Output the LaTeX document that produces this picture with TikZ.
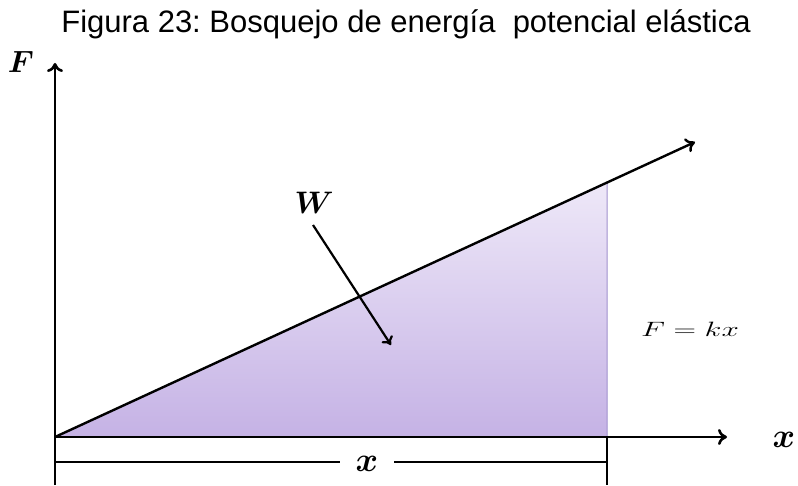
\documentclass[tikz,border=0pt]{standalone}
\usepackage{fontspec}
\setmainfont{Liberation Sans}
\frenchspacing
\usetikzlibrary{arrows.meta,calc}
\definecolor{shadetop}{RGB}{238,232,248}
\definecolor{shadebot}{RGB}{197,178,229}
\definecolor{edgepurple}{RGB}{160,144,205}
\newcommand{\bm}[2]{\scalebox{#1}{\fontsize{20.74}{24}\selectfont\boldmath$#2$}}
\tikzset{
  axis/.style={line width=2.6pt,-{To[length=9pt,width=16pt]}},
  plain/.style={line width=2.2pt},
  graphline/.style={line width=2.4pt,-{To[length=9pt,width=15pt]}},
  mathlab/.style={inner sep=0pt},
}
\begin{document}
\begin{tikzpicture}[x=1pt,y=1pt]
\useasboundingbox (0,0) rectangle (798,485);
% key points
\coordinate (O) at (55,48);
\coordinate (Ytip) at (55,422);
\coordinate (Ybot) at (55,0);
\coordinate (Xtip) at (727,48);
\coordinate (Dtip) at (695,343);
\coordinate (R) at (607,48);
\coordinate (Rtop) at ($(O)!0.8625!(Dtip)$);
\coordinate (Rbot) at (607,0);
\coordinate (DimL) at (55,23);
\coordinate (DimR) at (607,23);
\coordinate (Wstart) at (313,260);
\coordinate (Wend) at (391,140);
% title
\node[anchor=base,inner sep=0pt,font=\fontsize{31}{31}\selectfont] (title) at (406,452)
  {Figura 23: Bosquejo de energía\ \ potencial elástica};
% shaded area
\shade[top color=shadetop,bottom color=shadebot] (O) -- (R) -- (Rtop) -- cycle;
\draw[edgepurple,line width=1pt] (R) -- (Rtop);
% axes
\draw[axis] (Ybot) -- (Ytip);
\draw[axis] (O) -- (Xtip);
\draw[graphline] (O) -- (Dtip);
% labels
\node[mathlab] (Flab) at (21,423) {\bm{1.48}{F}};
\node[mathlab] (xlab) at (784,45) {\bm{1.65}{x}};
\node[mathlab] (Wlab) at (314,282) {\bm{1.5}{W}};
\node[inner sep=0pt,font=\fontsize{20}{20}\selectfont] (law) at (690,156)
  {\scalebox{1.5}[1]{$F = kx$}};
% W arrow
\draw[line width=2.2pt,-{To[length=8pt,width=13pt]}] (Wstart) -- (Wend);
% dimension
\draw[plain] (R) -- (Rbot);
\node[mathlab,minimum width=54pt] (dimx) at (367,21) {\bm{1.65}{x}};
\draw[plain] (DimL) -- (dimx.west |- DimL);
\draw[plain] (dimx.east |- DimR) -- (DimR);
\end{tikzpicture}
\end{document}
